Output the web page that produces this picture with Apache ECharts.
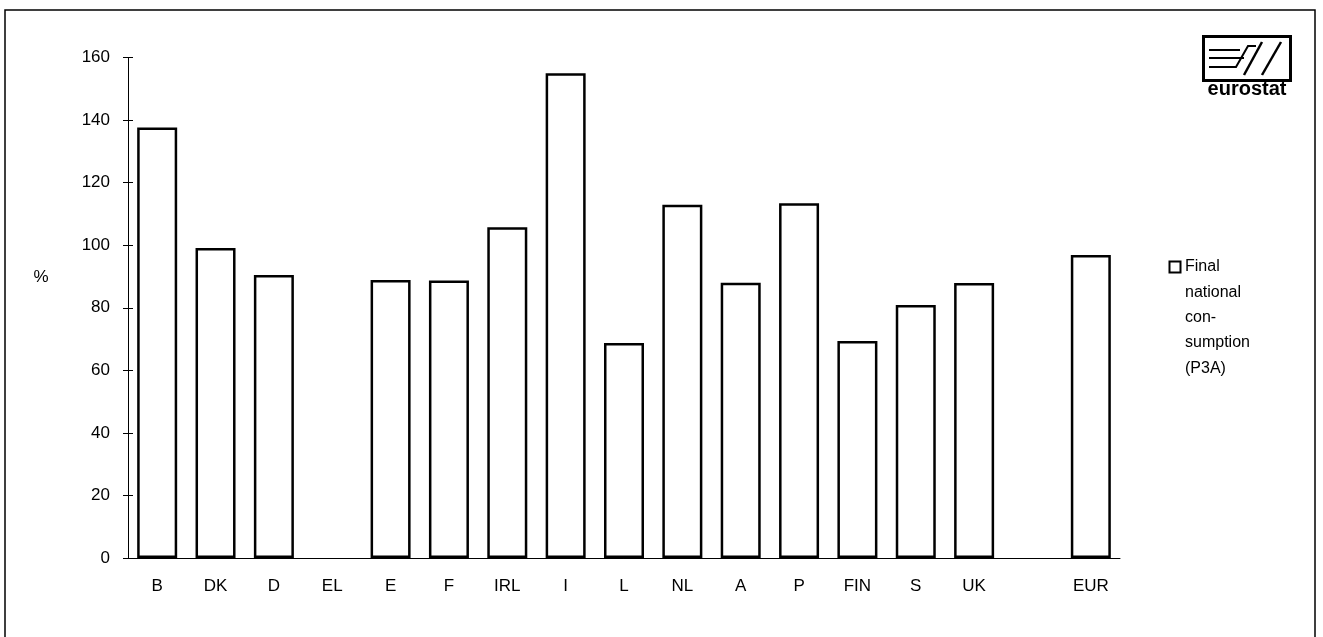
<!DOCTYPE html>
<html>
<head>
<meta charset="utf-8">
<script src="https://cdn.jsdelivr.net/npm/echarts@6/dist/echarts.min.js"></script>
<style>
html,body{margin:0;padding:0;background:#fff;}
#chart{width:1323px;height:637px;}
</style>
</head>
<body>
<div id="chart"></div>
<script>
const categories = ['B','DK','D','EL','E','F','IRL','I','L','NL','A','P','FIN','S','UK','','EUR'];
const finalConsumption = [137.6, 99.1, 90.5, null, 88.9, 88.7, 105.7, 155.0, 68.7, 112.9, 88.0, 113.4, 69.4, 80.9, 87.9, null, 96.9];
const yTicks = [0, 20, 40, 60, 80, 100, 120, 140, 160];
const seriesName = 'Final national consumption (P3A)';
const legendLines = ['Final', 'national', 'con-', 'sumption', '(P3A)'];
const unitLabel = '%';

const font = 'Liberation Sans, Arial, Helvetica, sans-serif';
const chart = echarts.init(document.getElementById('chart'));

const legendGraphics = [{
  type: 'rect',
  shape: {x: 1169.5, y: 261.5, width: 11, height: 11},
  style: {fill: '#fff', stroke: '#000', lineWidth: 2}
}];
legendLines.forEach((t, i) => {
  legendGraphics.push({
    type: 'text',
    style: {text: t, x: 1185, y: 267 + i * 25.3, font: '16px ' + font, fill: '#000', textVerticalAlign: 'middle'}
  });
});

chart.setOption({
  animation: false,
  backgroundColor: '#fff',
  grid: {left: 128, right: 203, top: 57.5, bottom: 79, containLabel: false},
  xAxis: {
    type: 'category',
    data: categories,
    axisLine: {lineStyle: {color: '#000', width: 1}},
    axisTick: {show: false},
    axisLabel: {color: '#000', fontSize: 17, fontFamily: font, margin: 20, interval: 0}
  },
  yAxis: [{
    type: 'value',
    min: 0, max: 160, interval: 20,
    axisLine: {show: true, lineStyle: {color: '#000', width: 1}},
    axisTick: {show: false},
    axisLabel: {color: '#000', fontSize: 17, fontFamily: font, margin: 18,
      formatter: v => yTicks.includes(v) ? String(v) : ''},
    splitLine: {show: false}
  }, {
    type: 'value',
    position: 'left',
    offset: -5,
    min: 0, max: 160, interval: 20,
    axisLine: {show: false},
    axisTick: {show: true, inside: false, length: 10, lineStyle: {color: '#000'}},
    axisLabel: {show: false},
    splitLine: {show: false}
  }],
  series: [{
    name: seriesName,
    type: 'bar',
    data: finalConsumption,
    barWidth: 40,
    itemStyle: {color: '#fff', borderColor: '#000', borderWidth: 2.5}
  }],
  graphic: [
    {type: 'rect', shape: {x: 5, y: 10, width: 1310, height: 660},
     style: {fill: 'none', stroke: '#000', lineWidth: 1.5}, silent: true},
    {type: 'text', style: {text: unitLabel, x: 41, y: 277, font: '17px ' + font, fill: '#000',
      textAlign: 'center', textVerticalAlign: 'middle'}},
    // eurostat logo
    {type: 'rect', shape: {x: 1203.5, y: 36.5, width: 87, height: 44}, style: {fill: '#fff', stroke: '#000', lineWidth: 3}},
    {type: 'polyline', shape: {points: [[1209, 50], [1240, 50]]}, style: {stroke: '#000', lineWidth: 2}},
    {type: 'polyline', shape: {points: [[1209, 58], [1244, 58]]}, style: {stroke: '#000', lineWidth: 2}},
    {type: 'polyline', shape: {points: [[1209, 67], [1236, 67], [1248, 46], [1256, 46]]}, style: {stroke: '#000', lineWidth: 2, fill: 'none'}},
    {type: 'polyline', shape: {points: [[1244, 75], [1262, 42]]}, style: {stroke: '#000', lineWidth: 2.5}},
    {type: 'polyline', shape: {points: [[1262, 75], [1281, 42]]}, style: {stroke: '#000', lineWidth: 2.5}},
    {type: 'text', style: {text: 'eurostat', x: 1247, y: 89, font: 'bold 20px ' + font, fill: '#000',
      textAlign: 'center', textVerticalAlign: 'middle'}}
  ].concat(legendGraphics)
});
</script>
</body>
</html>
